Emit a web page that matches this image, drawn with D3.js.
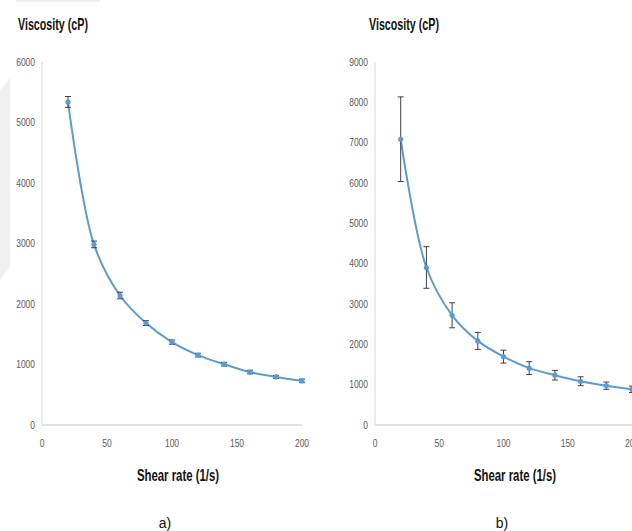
<!DOCTYPE html>
<html>
<head>
<meta charset="utf-8">
<script src="https://cdn.jsdelivr.net/npm/d3@7"></script>
<style>
  body { margin: 0; background: #fff; }
  svg { display: block; }
</style>
</head>
<body>
<svg id="chart" width="632" height="531"></svg>
<script>
const shearRate = [20, 40, 60, 80, 100, 120, 140, 160, 180, 200]
const viscosityA = [5340, 2985, 2140, 1685, 1370, 1155, 1005, 875, 795, 730]
const errorA = [90, 55, 55, 40, 35, 30, 30, 30, 25, 30]
const viscosityB = [7085, 3905, 2720, 2085, 1695, 1410, 1235, 1085, 975, 885]
const errorB = [1050, 515, 310, 210, 160, 160, 120, 110, 90, 80]
const yTicksA = [0, 1000, 2000, 3000, 4000, 5000, 6000]
const yTicksB = [0, 1000, 2000, 3000, 4000, 5000, 6000, 7000, 8000, 9000]
const xTicks = [0, 50, 100, 150, 200]
const yTitle = 'Viscosity (cP)'
const xTitle = 'Shear rate (1/s)'
const panelLabels = ['a)', 'b)']

const svg = d3.select('#chart')
const lineColor = '#5b9bd5'
const axisColor = '#d9d9d9'
const tickColor = '#595959'
const barColor = '#404040'
const font = '"Liberation Sans", Arial, sans-serif'

// faint grey shapes from the scanned page
svg.append('rect').attr('x', 16).attr('y', 0).attr('width', 84).attr('height', 2).attr('fill', '#efefef')
svg.append('path').attr('d', 'M0,90 L10,78 L10,267 L0,280 Z').attr('fill', '#f0f0f0')

function drawPanel(p) {
  const g = svg.append('g')
  const x = d3.scaleLinear().domain([0, 200]).range([p.left, p.right])
  const y = d3.scaleLinear().domain([0, p.yMax]).range([425, 62])

  // axes lines
  g.append('line').attr('x1', p.left).attr('x2', p.left).attr('y1', y(p.yMax)).attr('y2', y(0))
    .attr('stroke', axisColor).attr('stroke-width', 1)
  g.append('line').attr('x1', p.left).attr('x2', p.right).attr('y1', y(0)).attr('y2', y(0))
    .attr('stroke', axisColor).attr('stroke-width', 1.3)

  g.selectAll('text.ytick').data(p.yTicks).enter().append('text')
    .attr('class', 'ytick')
    .attr('x', p.left - 7).attr('y', d => y(d)).attr('dy', '0.35em')
    .attr('text-anchor', 'end')
    .attr('textLength', d => String(d).length * 4.7).attr('lengthAdjust', 'spacingAndGlyphs')
    .style('font-family', font).style('font-size', '10.5px').attr('fill', tickColor)
    .text(d => d)

  g.selectAll('text.xtick').data(xTicks).enter().append('text')
    .attr('class', 'xtick')
    .attr('x', d => x(d) - String(d).length * 2.35).attr('y', 443).attr('dy', '0.35em')
    .attr('textLength', d => String(d).length * 4.7).attr('lengthAdjust', 'spacingAndGlyphs')
    .style('font-family', font).style('font-size', '10.5px').attr('fill', tickColor)
    .text(d => d)

  const pts = shearRate.map((d, i) => ({ x: d, v: p.values[i], e: p.errors[i] }))

  // smoothed line
  const line = d3.line().x(d => x(d.x)).y(d => y(d.v)).curve(d3.curveCatmullRom.alpha(0.5))
  g.append('path').datum(pts).attr('d', line)
    .attr('fill', 'none').attr('stroke', lineColor).attr('stroke-width', 2)

  // error bars
  const bars = g.selectAll('g.err').data(pts).enter().append('g').attr('class', 'err')
  bars.append('line').attr('x1', d => x(d.x)).attr('x2', d => x(d.x))
    .attr('y1', d => y(d.v + d.e)).attr('y2', d => y(d.v - d.e))
    .attr('stroke', barColor).attr('stroke-width', 1)
  bars.append('line').attr('x1', d => x(d.x) - 3).attr('x2', d => x(d.x) + 3)
    .attr('y1', d => y(d.v + d.e)).attr('y2', d => y(d.v + d.e))
    .attr('stroke', barColor).attr('stroke-width', 1)
  bars.append('line').attr('x1', d => x(d.x) - 3).attr('x2', d => x(d.x) + 3)
    .attr('y1', d => y(d.v - d.e)).attr('y2', d => y(d.v - d.e))
    .attr('stroke', barColor).attr('stroke-width', 1)

  g.selectAll('circle.pt').data(pts).enter().append('circle')
    .attr('class', 'pt')
    .attr('cx', d => x(d.x)).attr('cy', d => y(d.v)).attr('r', 2.6)
    .attr('fill', lineColor)

  // titles
  g.append('text').attr('x', p.titleX).attr('y', 30)
    .attr('textLength', 70).attr('lengthAdjust', 'spacingAndGlyphs')
    .style('font-family', font).style('font-size', '17px').style('font-weight', 'bold')
    .attr('fill', '#111').text(yTitle)
  g.append('text').attr('x', p.xTitleX - 41).attr('y', 481)
    .attr('textLength', 82).attr('lengthAdjust', 'spacingAndGlyphs')
    .style('font-family', font).style('font-size', '17px').style('font-weight', 'bold')
    .attr('fill', '#111').text(xTitle)
  g.append('text').attr('x', p.labelX).attr('y', 528).attr('text-anchor', 'middle')
    .style('font-family', font).style('font-size', '14px')
    .attr('fill', '#111').text(p.label)
}

drawPanel({ left: 42, right: 302, yMax: 6000, yTicks: yTicksA, values: viscosityA, errors: errorA,
  titleX: 18, xTitleX: 178, labelX: 165, label: panelLabels[0] })
drawPanel({ left: 375, right: 632, yMax: 9000, yTicks: yTicksB, values: viscosityB, errors: errorB,
  titleX: 369, xTitleX: 515, labelX: 502, label: panelLabels[1] })
</script>
</body>
</html>
